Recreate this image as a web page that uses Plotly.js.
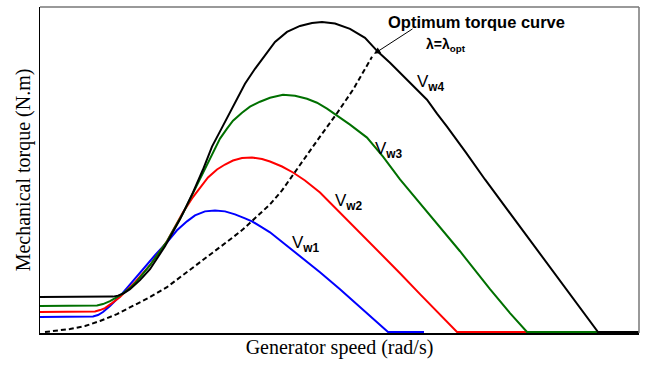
<!DOCTYPE html>
<html>
<head>
<meta charset="utf-8">
<script src="https://cdn.plot.ly/plotly-3.0.1.min.js"></script>
<style>html,body{margin:0;padding:0;background:#fff;}#chart{width:657px;height:365px;}</style>
</head>
<body>
<div id="chart"></div>
<script>
// Generator speed (arbitrary units) and mechanical torque (arbitrary units)
const vw1Speed  = [40, 88, 93, 98, 103, 110, 120, 132, 143, 155, 167, 177, 187, 195, 205, 215, 225, 235, 245, 252, 262, 270, 285, 300, 320, 340, 360, 375, 388, 424];
const vw1Torque = [15, 15, 15.5, 17, 20, 26, 36, 50, 63, 77, 90, 102, 111, 117, 121, 122, 121, 118, 114, 111, 105, 100, 88, 76, 60, 43, 25, 12, 0, 0];

const vw2Speed  = [40, 90, 95, 100, 105, 112, 120, 135, 150, 167, 175, 183, 192, 200, 208, 217, 225, 233, 242, 252, 262, 270, 282, 293, 305, 320, 340, 360, 380, 400, 420, 440, 457, 527];
const vw2Torque = [20, 20, 20.5, 22, 24, 29, 35, 50, 67, 91, 105, 120, 134, 145, 155, 163, 168, 172, 174.5, 175, 173.5, 171, 166, 160, 152, 140, 120, 100, 80, 59, 38, 18, 0, 0];

const vw3Speed  = [40, 92, 97, 103, 110, 117, 122, 130, 137, 150, 167, 183, 198, 206, 213, 220, 227, 233, 242, 250, 260, 270, 283, 295, 307, 317, 327, 336, 350, 367, 383, 400, 430, 460, 490, 510, 527, 598];
const vw3Torque = [26, 26, 26.5, 28, 31, 35, 38, 44, 51, 67, 91, 119, 150, 166, 181, 194, 204, 212, 220, 226, 231, 235, 238, 237, 234, 230, 224, 218, 208, 195, 176, 153, 117, 81, 43, 19, 0, 0];

const vw4Speed  = [40, 108, 113, 118, 124, 130, 140, 150, 165, 180, 193, 203, 212, 222, 235, 245, 255, 265, 275, 287, 300, 312, 322, 335, 350, 365, 378, 390, 400, 413, 427, 437, 447, 466, 485, 598, 639];
const vw4Torque = [35, 35, 35.5, 36.5, 39, 43, 52, 63, 86, 113, 140, 163, 186, 205, 230, 249, 264, 278, 291, 301, 307, 310, 311, 309.5, 304, 295, 281, 270, 260, 246, 233, 219, 206, 180, 153, 0, 0];

const optSpeed  = [45, 55, 70, 85, 100, 117, 133, 150, 167, 183, 200, 217, 233, 243, 252, 262, 270, 282, 293, 306, 320, 336, 353, 372];
const optTorque = [0, 1, 3, 6, 11, 18, 26, 35, 45, 57, 70, 83, 95, 103, 111, 120, 128, 142, 158, 176, 196, 218, 243, 276];

const seriesNames = ['V<sub><b>w1</b></sub>', 'V<sub><b>w2</b></sub>', 'V<sub><b>w3</b></sub>', 'V<sub><b>w4</b></sub>'];

const mk = (x, y, color, name) => ({
  x: x, y: y, type: 'scatter', mode: 'lines', name: name,
  line: {color: color, width: 2, shape: 'linear'},
  hoverinfo: 'skip'
});

const traces = [
  mk(vw1Speed, vw1Torque, '#0000ff', seriesNames[0]),
  mk(vw2Speed, vw2Torque, '#ff0000', seriesNames[1]),
  mk(vw3Speed, vw3Torque, '#007000', seriesNames[2]),
  mk(vw4Speed, vw4Torque, '#000000', seriesNames[3]),
  {x: optSpeed, y: optTorque, type: 'scatter', mode: 'lines', name: 'Optimum',
   line: {color: '#000', width: 2, dash: '5px,3px', shape: 'linear'}, hoverinfo: 'skip'}
];

const lblFont = {family: 'Liberation Sans, Arial, sans-serif', size: 17, color: '#000'};
const titleFont = {family: 'Liberation Serif, Times New Roman, serif', size: 20, color: '#000'};

const layout = {
  width: 657, height: 365,
  margin: {l: 40, r: 18, t: 7, b: 32},
  paper_bgcolor: '#fff', plot_bgcolor: '#fff',
  showlegend: false,
  xaxis: {
    range: [40, 639], showgrid: false, zeroline: false, showticklabels: false, ticks: '',
    showline: true, linecolor: '#000', linewidth: 1.5, layer: 'below traces',
    title: {text: 'Generator speed (rad/s)', standoff: 6, font: titleFont}
  },
  yaxis: {
    range: [-1, 326], showgrid: false, zeroline: false, showticklabels: false, ticks: '',
    showline: true, linecolor: '#000', linewidth: 1.5, layer: 'below traces',
    title: {text: 'Mechanical torque (N.m)', standoff: 2, font: titleFont}
  },
  shapes: [
    {type: 'line', xref: 'paper', yref: 'paper', x0: 0, x1: 1, y0: 1, y1: 1, line: {color: '#777', width: 1.5}},
    {type: 'line', xref: 'paper', yref: 'paper', x0: 1, x1: 1, y0: 0, y1: 1, line: {color: '#777', width: 1.5}}
  ],
  annotations: [
    {x: 476, y: 311, xref: 'x', yref: 'y', text: '<b>Optimum torque curve</b>', showarrow: false,
     font: {family: 'Liberation Sans, Arial, sans-serif', size: 16.5, color: '#000'}},
    {x: 446, y: 288, xref: 'x', yref: 'y', text: '<b>λ=λ<sub>opt</sub></b>', showarrow: false,
     font: {family: 'Liberation Sans, Arial, sans-serif', size: 14, color: '#000'}},
    {x: 374, y: 279, xref: 'x', yref: 'y', ax: 414, ay: 305, axref: 'x', ayref: 'y', text: '',
     showarrow: true, arrowhead: 2, arrowsize: 1.3, arrowwidth: 1, arrowcolor: '#000'},
    {x: 306, y: 88, xref: 'x', yref: 'y', text: seriesNames[0], showarrow: false, font: lblFont},
    {x: 349, y: 130, xref: 'x', yref: 'y', text: seriesNames[1], showarrow: false, font: lblFont},
    {x: 389, y: 183, xref: 'x', yref: 'y', text: seriesNames[2], showarrow: false, font: lblFont},
    {x: 431, y: 250, xref: 'x', yref: 'y', text: seriesNames[3], showarrow: false, font: lblFont}
  ]
};

Plotly.newPlot('chart', traces, layout, {staticPlot: true, displayModeBar: false});
</script>
</body>
</html>
